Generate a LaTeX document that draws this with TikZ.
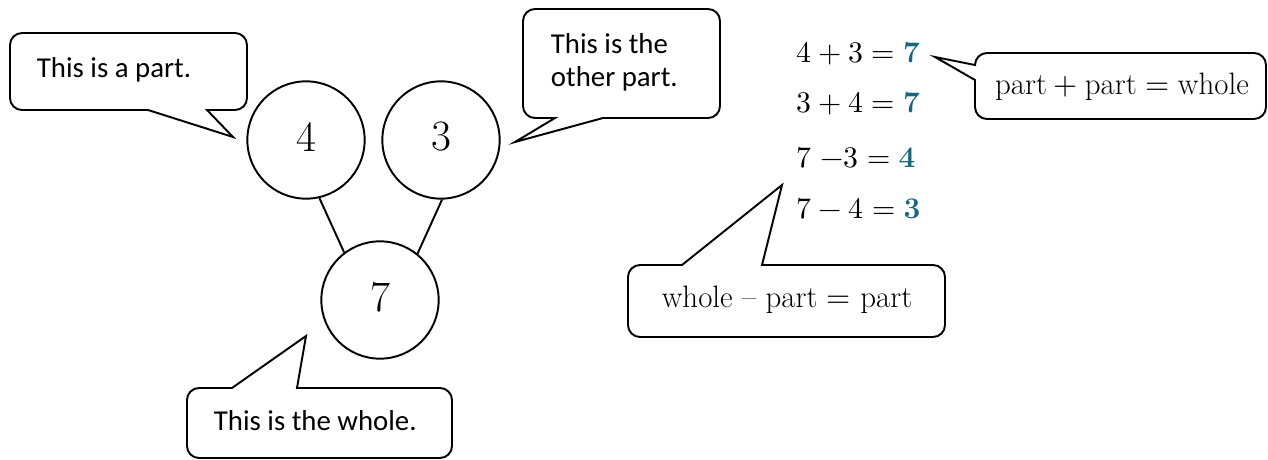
\documentclass[tikz,border=0pt]{standalone}
\usepackage{fontspec}
\usepackage{unicode-math}
\setmathfont{Latin Modern Math}
\newfontfamily\calfont{Carlito}
\definecolor{numcol}{HTML}{17657E}
\begin{document}
\begin{tikzpicture}[x=0.75pt,y=-0.75pt,line width=1.45pt,
  bubble/.style={draw,line join=miter},
  rc/.style={rounded corners=9},
  ctext/.style={font=\calfont\fontsize{21.6}{24.75}\selectfont,inner sep=0pt},
  mtext/.style={font=\fontsize{23.2}{27}\selectfont,inner sep=0pt},
  eqtext/.style={font=\fontsize{22.4}{26}\selectfont,inner sep=0pt},
  num/.style={circle,draw,minimum size=88pt,inner sep=0pt,text depth=5pt,font=\fontsize{32.5}{36}\selectfont}]
\useasboundingbox (0,0) rectangle (1268,460);

% circles
\node[num] (c4) at (306,140) {4};
\node[num] (c3) at (441,140) {3};
\node[num] (c7) at (380,300) {7};
\draw (c4.-77) -- (c7.127);
\draw (c3.-89) -- (c7.51);

% callout A
\draw[bubble] (10,70) [rc] -- (10,33) -- (247,33) -- (247,110) [sharp corners] -- (207,110) -- (233,137) -- (148,110) [rc] -- (10,110) -- cycle;
\node[ctext,anchor=base west] (ta) at (36,78) {This is a part.};

% callout B
\draw[bubble] (720,60) [rc] -- (720,9) -- (523,9) -- (523,118) [sharp corners] -- (555,118) -- (515,142) -- (603,118) [rc] -- (720,118) -- cycle;
\node[ctext,anchor=base west,align=left] (tb) at (550,87) {This is the\\other part.};

% callout C
\draw[bubble] (1266,86) [rc] -- (1266,53) -- (975,53) [sharp corners] -- (975,65) -- (935,57) -- (975,80) [rc] -- (975,119) -- (1266,119) -- cycle;
\node[mtext,anchor=base] (tc) at (1122,95) {$\mathrm{part}+\mathrm{part}=\mathrm{whole}$};

% callout D
\draw[bubble] (187,420) [rc] -- (187,388) [sharp corners] -- (232,388) -- (306,336) -- (297,388) [rc] -- (452,388) -- (452,458) -- (187,458) -- cycle;
\node[ctext,anchor=base west] (td) at (213,430) {This is the whole.};

% callout E
\draw[bubble] (628,300) [rc] -- (628,265) [sharp corners] -- (682,265) -- (782,185) -- (762,265) [rc] -- (945,265) -- (945,337) -- (628,337) -- cycle;
\node[mtext,anchor=base] (te) at (787,307) {whole -- part $=$ part};

% equations
\node[eqtext,anchor=base west] (e1) at (796,63) {$4+3=\textcolor{numcol}{\mathbf{7}}$};
\node[eqtext,anchor=base west] (e2) at (796,113) {$3+4=\textcolor{numcol}{\mathbf{7}}$};
\node[eqtext,anchor=base west] (e3) at (796,167) {$7\;{-}3=\textcolor{numcol}{\mathbf{4}}$};
\node[eqtext,anchor=base west] (e4) at (796,218) {$7-4=\textcolor{numcol}{\mathbf{3}}$};
\end{tikzpicture}
\end{document}
